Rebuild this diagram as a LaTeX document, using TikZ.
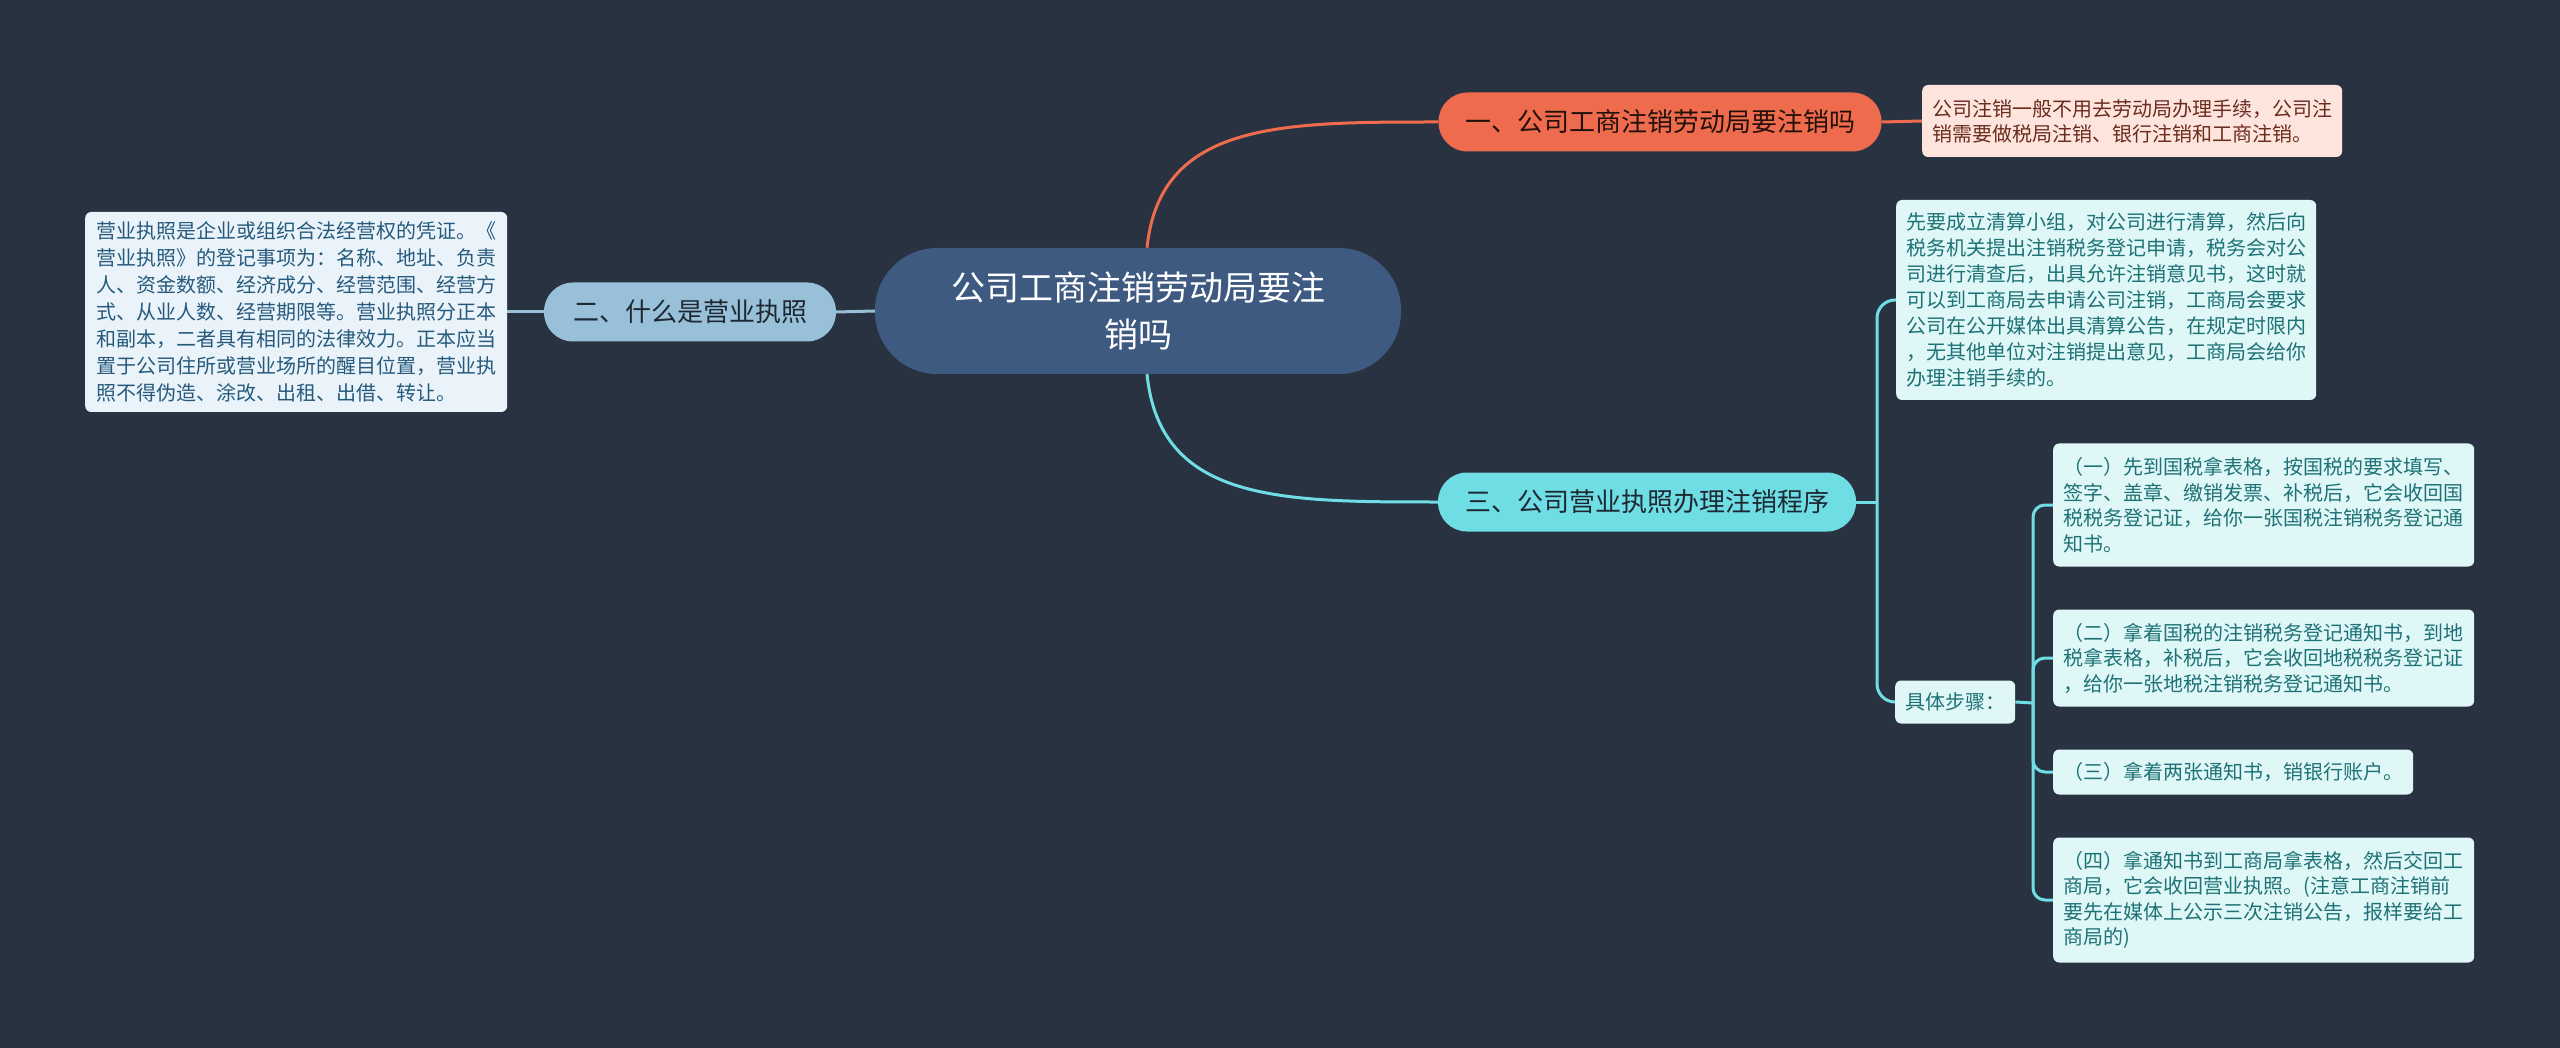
\documentclass[tikz,border=0pt]{standalone}
\usepackage{fontspec}
\setmainfont{Noto Sans CJK SC}
\pgfdeclarelayer{bgl}
\pgfsetlayers{bgl,main}
\definecolor{bg}{HTML}{293241}
\definecolor{cmain}{HTML}{3E5A81}
\definecolor{corange}{HTML}{EE6C4D}
\definecolor{cblue}{HTML}{98C1D9}
\definecolor{ccyan}{HTML}{6EDEE4}
\definecolor{lpink}{HTML}{FDE5DE}
\definecolor{tpink}{HTML}{6B2C1F}
\definecolor{lblue}{HTML}{EAF3F9}
\definecolor{tblue}{HTML}{265A7D}
\definecolor{lcyan}{HTML}{E0F7F8}
\definecolor{tcyan}{HTML}{1D7275}
\definecolor{tdark}{HTML}{1E2833}
\begin{document}
\begin{tikzpicture}[x=1pt,y=-1pt,
  central/.style={fill=cmain, rounded corners=62pt, minimum width=526pt, minimum height=126pt,
    text=white, font=\fontsize{34}{47}\selectfont, align=center, inner sep=0pt},
  branch/.style={rounded corners=29pt, minimum height=59pt, inner sep=0pt, text=tdark,
    font=\fontsize{26}{30}\selectfont},
  leaf/.style={rounded corners=6pt, inner xsep=10pt, inner ysep=0pt, align=left,
    anchor=west, font=\fontsize{20}{26}\selectfont},
  cyanleaf/.style={leaf, fill=lcyan, text=tcyan, font=\fontsize{20}{25.5}\selectfont},
  link/.style={line width=3pt}
]
\begin{pgfonlayer}{bgl}
\fill[bg] (0,0) rectangle (2560,1048);
\end{pgfonlayer}
\useasboundingbox (0,0) rectangle (2560,1048);

\node[central] (c) at (1138,311) {公司工商注销劳动局要注\\销吗};
\node[branch, fill=corange, text=black!85!corange, minimum width=443pt] (b1) at (1660,122) {一、公司工商注销劳动局要注销吗};
\node[branch, fill=cblue, minimum width=292pt] (b2) at (690,312) {二、什么是营业执照};
\node[branch, fill=ccyan, minimum width=418pt] (b3) at (1647,502) {三、公司营业执照办理注销程序};

\node[leaf, fill=lpink, text=tpink, minimum width=420pt, minimum height=72pt,
  font=\fontsize{20}{25}\selectfont] (l1) at (1922,121)
  {公司注销一般不用去劳动局办理手续，公司注\\销需要做税局注销、银行注销和工商注销。};

\node[leaf, fill=lblue, text=tblue, minimum width=422pt, minimum height=200pt,
  font=\fontsize{20}{27}\selectfont] (l2) at (85,312)
  {营业执照是企业或组织合法经营权的凭证。《\\营业执照》的登记事项为：名称、地址、负责\\人、资金数额、经济成分、经营范围、经营方\\式、从业人数、经营期限等。营业执照分正本\\和副本，二者具有相同的法律效力。正本应当\\置于公司住所或营业场所的醒目位置，营业执\\照不得伪造、涂改、出租、出借、转让。};

\node[cyanleaf, minimum width=420pt, minimum height=200pt,
  font=\fontsize{20}{26}\selectfont] (l3a) at (1896,300)
  {先要成立清算小组，对公司进行清算，然后向\\税务机关提出注销税务登记申请，税务会对公\\司进行清查后，出具允许注销意见书，这时就\\可以到工商局去申请公司注销，工商局会要求\\公司在公开媒体出具清算公告，在规定时限内\\，无其他单位对注销提出意见，工商局会给你\\办理注销手续的。};

\node[cyanleaf, minimum width=120pt, minimum height=43pt] (l3b) at (1895,702) {具体步骤：};

\node[cyanleaf, minimum width=421pt, minimum height=123pt] (s1) at (2053,505)
  {（一）先到国税拿表格，按国税的要求填写、\\签字、盖章、缴销发票、补税后，它会收回国\\税税务登记证，给你一张国税注销税务登记通\\知书。};
\node[cyanleaf, minimum width=421pt, minimum height=97pt] (s2) at (2053,658)
  {（二）拿着国税的注销税务登记通知书，到地\\税拿表格，补税后，它会收回地税税务登记证\\，给你一张地税注销税务登记通知书。};
\node[cyanleaf, minimum width=360pt, minimum height=45pt] (s3) at (2053,772)
  {（三）拿着两张通知书，销银行账户。};
\node[cyanleaf, minimum width=421pt, minimum height=125pt] (s4) at (2053,900)
  {（四）拿通知书到工商局拿表格，然后交回工\\商局，它会收回营业执照。(注意工商注销前\\要先在媒体上公示三次注销公告，报样要给工\\商局的)};

\coordinate (j3) at (1877,502);
\coordinate (j4) at (2033,703);

\begin{pgfonlayer}{bgl}
\draw[link, corange] ([xshift=9pt]c.north) .. controls (1160,122) and (1280,122) .. (b1.west);
\draw[link, ccyan] ([xshift=9pt]c.south) .. controls (1160,502) and (1280,502) .. (b3.west);
\draw[link, cblue] (c.west) -- (b2.east);
\draw[link, cblue] (b2.west) -- (l2.east);
\draw[link, corange] (b1.east) -- (l1.west);

\draw[link, ccyan] (b3.east) -- (j3);
\draw[link, ccyan, rounded corners=18pt] (j3) -- (j3 |- l3a.west) -- (l3a.west);
\draw[link, ccyan, rounded corners=18pt] (j3) -- (j3 |- l3b.west) -- (l3b.west);

\draw[link, ccyan] (l3b.east) -- (j4);
\draw[link, ccyan, rounded corners=12pt] (j4) -- (j4 |- s1.west) -- (s1.west);
\draw[link, ccyan, rounded corners=12pt] (j4) -- (j4 |- s2.west) -- (s2.west);
\draw[link, ccyan, rounded corners=12pt] (j4) -- (j4 |- s3.west) -- (s3.west);
\draw[link, ccyan, rounded corners=12pt] (j4) -- (j4 |- s4.west) -- (s4.west);
\end{pgfonlayer}
\end{tikzpicture}
\end{document}
